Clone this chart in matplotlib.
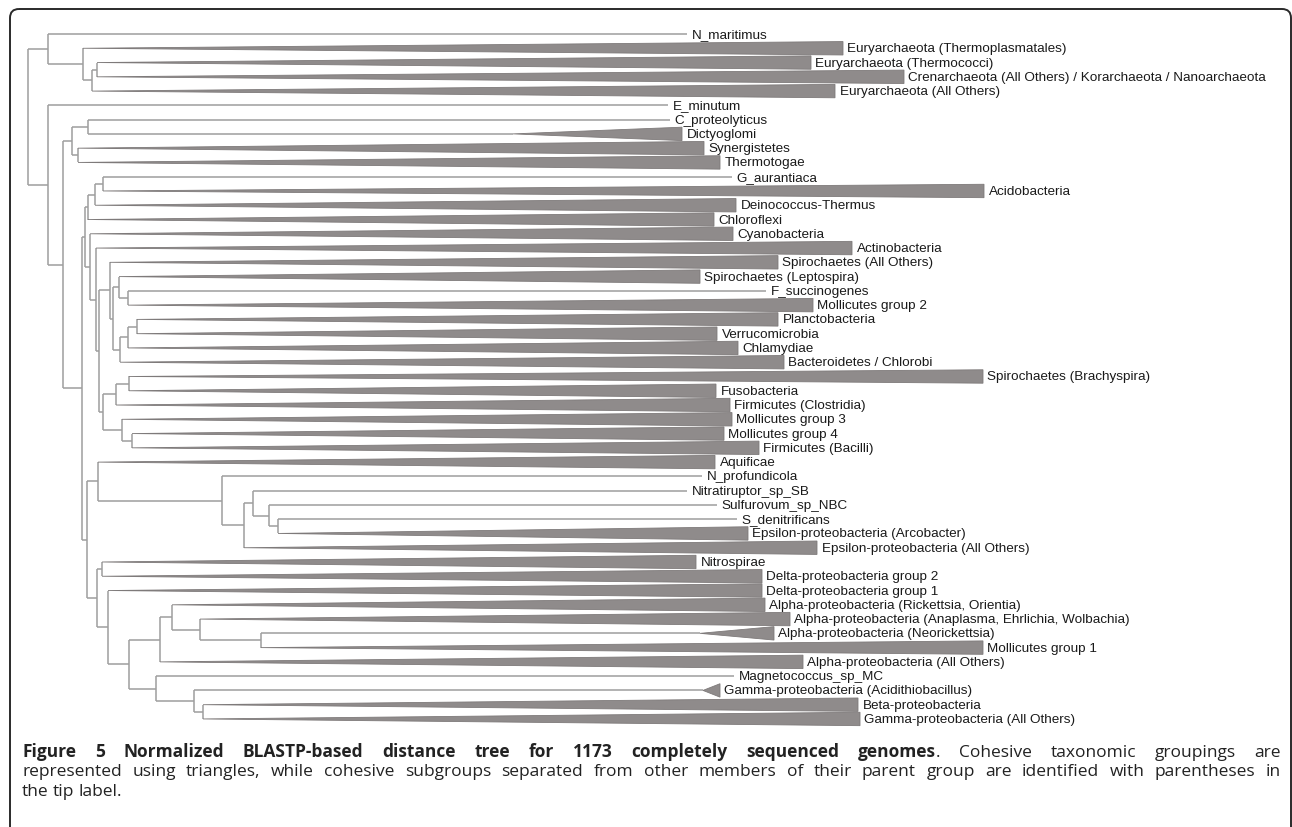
import matplotlib
matplotlib.use("Agg")
import matplotlib.pyplot as plt
from matplotlib.patches import Polygon, FancyBboxPatch
from matplotlib import transforms

# ---------------------------------------------------------------- data
# tips, top to bottom
tips = [
    "N_maritimus",
    "Euryarchaeota (Thermoplasmatales)",
    "Euryarchaeota (Thermococci)",
    "Crenarchaeota (All Others) / Korarchaeota / Nanoarchaeota",
    "Euryarchaeota (All Others)",
    "E_minutum",
    "C_proteolyticus",
    "Dictyoglomi",
    "Synergistetes",
    "Thermotogae",
    "G_aurantiaca",
    "Acidobacteria",
    "Deinococcus-Thermus",
    "Chloroflexi",
    "Cyanobacteria",
    "Actinobacteria",
    "Spirochaetes (All Others)",
    "Spirochaetes (Leptospira)",
    "F_succinogenes",
    "Mollicutes group 2",
    "Planctobacteria",
    "Verrucomicrobia",
    "Chlamydiae",
    "Bacteroidetes / Chlorobi",
    "Spirochaetes (Brachyspira)",
    "Fusobacteria",
    "Firmicutes (Clostridia)",
    "Mollicutes group 3",
    "Mollicutes group 4",
    "Firmicutes (Bacilli)",
    "Aquificae",
    "N_profundicola",
    "Nitratiruptor_sp_SB",
    "Sulfurovum_sp_NBC",
    "S_denitrificans",
    "Epsilon-proteobacteria (Arcobacter)",
    "Epsilon-proteobacteria (All Others)",
    "Nitrospirae",
    "Delta-proteobacteria group 2",
    "Delta-proteobacteria group 1",
    "Alpha-proteobacteria (Rickettsia, Orientia)",
    "Alpha-proteobacteria (Anaplasma, Ehrlichia, Wolbachia)",
    "Alpha-proteobacteria (Neorickettsia)",
    "Mollicutes group 1",
    "Alpha-proteobacteria (All Others)",
    "Magnetococcus_sp_MC",
    "Gamma-proteobacteria (Acidithiobacillus)",
    "Beta-proteobacteria",
    "Gamma-proteobacteria (All Others)",
]

# normalized distance from the root to each tip
tip_depth = [
    0.659, 0.815, 0.783, 0.876, 0.807,
    0.640, 0.642, 0.654, 0.676, 0.692,
    0.704, 0.956, 0.708, 0.686, 0.705,
    0.824, 0.750, 0.672, 0.738, 0.785,
    0.750, 0.689, 0.710, 0.756, 0.955,
    0.688, 0.702, 0.704, 0.696, 0.731,
    0.687, 0.674, 0.659, 0.689, 0.709,
    0.720, 0.789, 0.668, 0.734, 0.734,
    0.737, 0.762, 0.746, 0.955, 0.775,
    0.706, 0.692, 0.830, 0.832,
]

# single genomes are drawn as plain branches, cohesive groups as triangles
single_genomes = [
    "N_maritimus", "E_minutum", "C_proteolyticus", "G_aurantiaca",
    "F_succinogenes", "N_profundicola", "Nitratiruptor_sp_SB",
    "Sulfurovum_sp_NBC", "S_denitrificans", "Magnetococcus_sp_MC",
]

# crown depth of groups whose triangle starts after the stem branch
group_crown = {
    "Dictyoglomi": 0.485,
    "Alpha-proteobacteria (Neorickettsia)": 0.672,
    "Gamma-proteobacteria (Acidithiobacillus)": 0.675,
}

# internal nodes: name -> (depth, upper child, lower child)
nodes = {
    "root":  (0.000, "arch", "bact"),
    "arch":  (0.020, "N_maritimus", "eury1"),
    "eury1": (0.055, "Euryarchaeota (Thermoplasmatales)", "eury2"),
    "eury2": (0.064, "eury3", "Euryarchaeota (All Others)"),
    "eury3": (0.069, "Euryarchaeota (Thermococci)",
              "Crenarchaeota (All Others) / Korarchaeota / Nanoarchaeota"),
    "bact":  (0.020, "E_minutum", "b1"),
    "b1":    (0.035, "therm", "b2"),
    "therm": (0.044, "dict", "syn"),
    "dict":  (0.060, "C_proteolyticus", "Dictyoglomi"),
    "syn":   (0.050, "Synergistetes", "Thermotogae"),
    "b2":    (0.054, "terra", "b3"),
    "terra": (0.057, "dein", "cyano"),
    "dein":  (0.060, "dein2", "Chloroflexi"),
    "dein2": (0.067, "acid", "Deinococcus-Thermus"),
    "acid":  (0.075, "G_aurantiaca", "Acidobacteria"),
    "cyano": (0.062, "Cyanobacteria", "actino"),
    "actino": (0.068, "Actinobacteria", "mid"),
    "mid":   (0.071, "spiro", "firm"),
    "spiro": (0.082, "Spirochaetes (All Others)", "spiro2"),
    "spiro2": (0.085, "lepto", "pvc"),
    "lepto": (0.091, "Spirochaetes (Leptospira)", "fib"),
    "fib":   (0.100, "F_succinogenes", "Mollicutes group 2"),
    "pvc":   (0.092, "pvc2", "Bacteroidetes / Chlorobi"),
    "pvc2":  (0.100, "pvc3", "Chlamydiae"),
    "pvc3":  (0.109, "Planctobacteria", "Verrucomicrobia"),
    "firm":  (0.075, "clos", "baci"),
    "clos":  (0.088, "fuso", "Firmicutes (Clostridia)"),
    "fuso":  (0.101, "Spirochaetes (Brachyspira)", "Fusobacteria"),
    "baci":  (0.094, "Mollicutes group 3", "baci2"),
    "baci2": (0.104, "Mollicutes group 4", "Firmicutes (Bacilli)"),
    "b3":    (0.059, "aqui", "prot"),
    "aqui":  (0.070, "Aquificae", "eps"),
    "eps":   (0.194, "N_profundicola", "eps2"),
    "eps2":  (0.216, "eps3", "Epsilon-proteobacteria (All Others)"),
    "eps3":  (0.225, "Nitratiruptor_sp_SB", "eps4"),
    "eps4":  (0.241, "Sulfurovum_sp_NBC", "eps5"),
    "eps5":  (0.250, "S_denitrificans", "Epsilon-proteobacteria (Arcobacter)"),
    "prot":  (0.069, "nitro", "prot2"),
    "nitro": (0.074, "Nitrospirae", "Delta-proteobacteria group 2"),
    "prot2": (0.080, "Delta-proteobacteria group 1", "prot3"),
    "prot3": (0.101, "alpha", "gamma"),
    "alpha": (0.132, "alpha2", "Alpha-proteobacteria (All Others)"),
    "alpha2": (0.144, "Alpha-proteobacteria (Rickettsia, Orientia)", "alpha3"),
    "alpha3": (0.172, "Alpha-proteobacteria (Anaplasma, Ehrlichia, Wolbachia)", "alpha4"),
    "alpha4": (0.233, "Alpha-proteobacteria (Neorickettsia)", "Mollicutes group 1"),
    "gamma": (0.128, "Magnetococcus_sp_MC", "gamma2"),
    "gamma2": (0.166, "Gamma-proteobacteria (Acidithiobacillus)", "gamma3"),
    "gamma3": (0.175, "Beta-proteobacteria", "Gamma-proteobacteria (All Others)"),
}

caption_lines = [
    [[("Figure", "bold")], [("5", "bold")], [("Normalized", "bold")],
     [("BLASTP-based", "bold")], [("distance", "bold")], [("tree", "bold")],
     [("for", "bold")], [("1173", "bold")], [("completely", "bold")],
     [("sequenced", "bold")], [("genomes", "bold"), (".", "normal")],
     [("Cohesive", "normal")], [("taxonomic", "normal")],
     [("groupings", "normal")], [("are", "normal")]],
    [[(w, "normal")] for w in
     "represented using triangles, while cohesive subgroups separated from "
     "other members of their parent group are identified with parentheses in".split()],
    [[(w, "normal")] for w in "the tip label.".split()],
]

# ---------------------------------------------------------------- figure
W, H = 1292, 828
fig = plt.figure(figsize=(W / 100, H / 100), dpi=100)
fig.patch.set_facecolor("white")

ax = fig.add_axes([0, 0, 1, 1])
ax.set_xlim(-0.028, 1.264)
ax.set_ylim((H - 35) / 14.27, -35 / 14.27)
ax.axis("off")

LINE = "#9e9e9e"
FILL = "#8f8b8b"
EDGE = "#7e7a7a"
HALF = 0.47
label_tf = transforms.offset_copy(ax.transData, fig=fig, x=4.5, y=0, units="dots")

row = {name: i for i, name in enumerate(tips)}
depth = dict(zip(tips, tip_depth))


def draw_tip(name, d0, y):
    tip = depth[name]
    if name in single_genomes:
        ax.plot([d0, tip], [y, y], color=LINE, lw=1.1, solid_capstyle="butt", zorder=2)
    else:
        apex = group_crown.get(name, d0)
        if apex > d0:
            ax.plot([d0, apex], [y, y], color=LINE, lw=1.1, solid_capstyle="butt", zorder=2)
        ax.add_patch(Polygon([(apex, y), (tip, y - HALF), (tip, y + HALF)],
                             closed=True, facecolor=FILL, edgecolor=EDGE,
                             lw=0.6, zorder=3))
    ax.text(tip, y, name, transform=label_tf, ha="left", va="center",
            fontsize=9.7, family="Liberation Sans", color="#1a1a1a", zorder=4)


def draw_node(name):
    if name in row:
        return row[name]
    d, upper, lower = nodes[name]
    ys = []
    for child in (upper, lower):
        yc = draw_node(child)
        ys.append(yc)
        if child in nodes:
            ax.plot([d, nodes[child][0]], [yc, yc], color=LINE, lw=1.1,
                    solid_capstyle="butt", zorder=2)
        else:
            draw_tip(child, d, yc)
    ax.plot([d, d], ys, color=LINE, lw=1.1, solid_capstyle="butt", zorder=2)
    return sum(ys) / 2


draw_node("root")

# ---------------------------------------------------------------- frame + caption
deco = fig.add_axes([0, 0, 1, 1], facecolor="none")
deco.set_xlim(0, W)
deco.set_ylim(H, 0)
deco.axis("off")
deco.add_patch(FancyBboxPatch((10, 10), 1281, 900,
                              boxstyle="round,pad=0,rounding_size=9",
                              facecolor="none", edgecolor="#2a2a2a", lw=1.4))

renderer = fig.canvas.get_renderer()
cap_kw = dict(fontsize=12.5, family="Open Sans", color="#222222", va="baseline")
left, right = 22, 1281
baselines = [757, 776.5, 796]


def piece_width(text, weight):
    t = deco.text(0, 0, text, fontweight=weight, **cap_kw)
    w = t.get_window_extent(renderer).width
    t.remove()
    return w


for li, (words, base) in enumerate(zip(caption_lines, baselines)):
    widths = [[piece_width(t, wt) for t, wt in word] for word in words]
    total = sum(sum(w) for w in widths)
    if li < len(caption_lines) - 1:
        gap = (right - left - total) / (len(words) - 1)
    else:
        gap = piece_width("a b", "normal") - piece_width("ab", "normal")
    x = left
    for word, ws in zip(words, widths):
        for (t, wt), w in zip(word, ws):
            deco.text(x, base, t, fontweight=wt, **cap_kw)
            x += w
        x += gap

fig.savefig("out.png", dpi=100, facecolor="white")
